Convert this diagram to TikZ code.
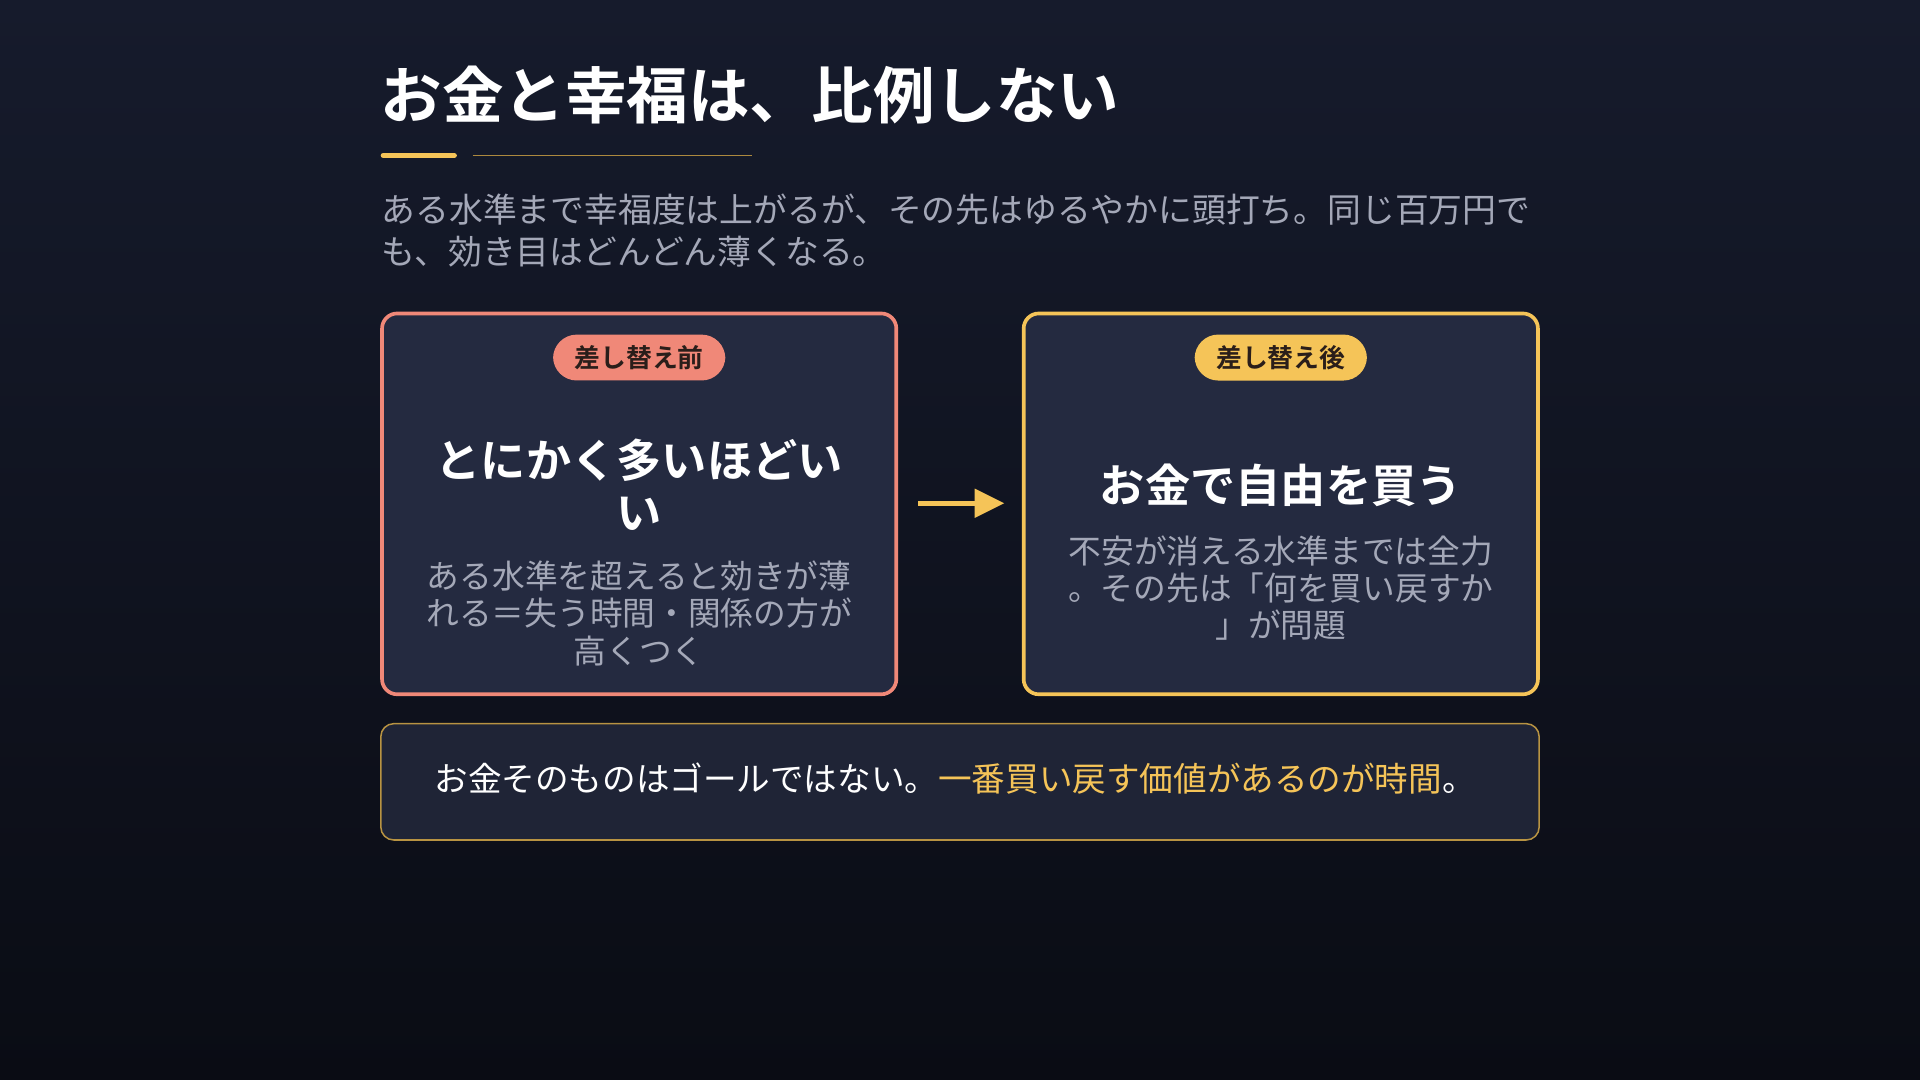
\documentclass[tikz,border=0pt]{standalone}
\usepackage{fontspec}
\setmainfont{Noto Sans CJK JP}[BoldFont={Noto Sans CJK JP Bold}]
\begin{document}
\begin{tikzpicture}[x=0.01cm,y=-0.01cm,
  card/.style={line width=0.85pt,rounded corners=3.5pt,fill=cardbg},
  badge/.style={rounded corners=5.5pt,inner xsep=5pt,inner ysep=2.5pt,font=\bfseries\fontsize{6}{7}\selectfont,text=badgetxt},
  ctitle/.style={font=\bfseries\fontsize{10.5}{12}\selectfont,text=white,align=center},
  cbody/.style={font=\fontsize{7.6}{8.6}\selectfont,text=bodygray,align=center}]
\definecolor{bgtop}{HTML}{161B2C}\definecolor{bgbot}{HTML}{0A0C14}
\definecolor{cardbg}{HTML}{242A40}\definecolor{salmon}{HTML}{F08878}
\definecolor{gold}{HTML}{F5C458}\definecolor{bodygray}{HTML}{A4A8B8}
\definecolor{badgetxt}{HTML}{2A1E1A}
\shade[top color=bgtop,bottom color=bgbot] (0,0) rectangle (1568,882);
\useasboundingbox (0,0) rectangle (1568,882);
\node[anchor=west,font=\bfseries\fontsize{14.3}{16}\selectfont,text=white,inner sep=0] (title) at (310,78) {お金と幸福は、比例しない};
\draw[gold,line width=1.2pt,line cap=round] (313,127) -- (371,127);
\draw[gold!70!black,line width=0.3pt] (386,127) -- (614,127);
\node[anchor=north west,inner sep=0,align=left,text=bodygray,font=\fontsize{7.85}{9.6}\selectfont] (sub) at (311,158) {ある水準まで幸福度は上がるが、その先はゆるやかに頭打ち。同じ百万円で\\も、効き目はどんどん薄くなる。};
\draw[card,draw=salmon] (312,256) rectangle (732,567);
\draw[card,draw=gold] (836,256) rectangle (1256,567);
\node[badge,fill=salmon] (b1) at (522,292) {差し替え前};
\node[badge,fill=gold] (b2) at (1046,292) {差し替え後};
\node[ctitle] (t1) at (522,396) {とにかく多いほどい\\い};
\node[cbody] (d1) at (522,501) {ある水準を超えると効きが薄\\れる＝失う時間・関係の方が\\高くつく};
\node[ctitle] (t2) at (1046,396) {お金で自由を買う};
\node[cbody] (d2) at (1046,480) {不安が消える水準までは全力\\。その先は「何を買い戻すか\\」が問題};
\coordinate (a1) at (750,411); \coordinate (a2) at (820,411);
\draw[gold,line width=1.2pt] (a1) -- (800,411);
\fill[gold] (796,399) -- (a2) -- (796,423) -- cycle;
\draw[gold!75!black,line width=0.35pt,fill=cardbg!85!black,rounded corners=3pt] (311,591) rectangle (1257,686);
\node[font=\fontsize{7.8}{9}\selectfont,text=white] (bot) at (780,636) {お金そのものはゴールではない。\textcolor{gold}{一番買い戻す価値があるのが時間}。};
\end{tikzpicture}
\end{document}
